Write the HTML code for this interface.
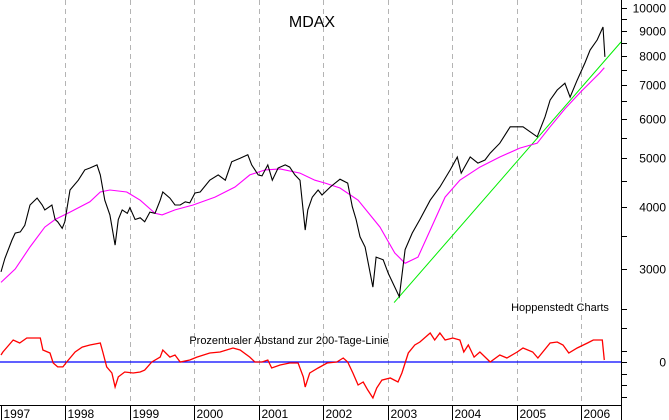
<!DOCTYPE html>
<html><head><meta charset="utf-8"><style>
html,body{margin:0;padding:0;background:#fff;}
svg{display:block;font-family:"Liberation Sans",Arial,sans-serif;}
</style></head><body>
<svg id="chart" width="669" height="420" viewBox="0 0 669 420" xmlns="http://www.w3.org/2000/svg">
<rect x="0" y="0" width="669" height="420" fill="#fff"/>
<g id="grid"></g>
<g id="axes"></g>
<g id="series"></g>
<text x="312" y="27" font-size="16" text-anchor="middle">MDAX</text>
<text x="560" y="311" font-size="11" text-anchor="middle">Hoppenstedt Charts</text>
<text x="289" y="344" font-size="11" text-anchor="middle">Prozentualer Abstand zur 200-Tage-Linie</text>
</svg>
<script>
// time in years since 1 Jan 1997
const years = ["1997","1998","1999","2000","2001","2002","2003","2004","2005","2006"];
const priceT = [0,0.06,0.17,0.22,0.30,0.37,0.45,0.56,0.64,0.68,0.79,0.84,0.88,0.95,0.99,1.07,1.20,1.30,1.38,1.49,1.54,1.61,1.69,1.77,1.82,1.88,1.96,2.00,2.08,2.16,2.23,2.31,2.39,2.47,2.51,2.62,2.70,2.78,2.86,2.93,3.01,3.09,3.24,3.37,3.48,3.58,3.71,3.83,3.89,3.99,4.05,4.14,4.21,4.30,4.41,4.48,4.56,4.64,4.72,4.76,4.83,4.92,4.98,5.11,5.26,5.38,5.45,5.51,5.57,5.65,5.77,5.82,5.93,6.01,6.18,6.27,6.38,6.50,6.66,6.81,6.97,7.08,7.14,7.28,7.40,7.51,7.59,7.74,7.90,8.10,8.32,8.44,8.52,8.63,8.75,8.83,8.94,9.06,9.14,9.25,9.34,9.37];
const priceV = [2960,3150,3430,3540,3560,3670,4030,4160,4030,3940,4030,3770,3730,3620,3730,4320,4520,4740,4780,4850,4630,4120,3850,3350,3770,3940,3880,3980,3770,3800,3730,3900,3880,4120,4280,4160,4030,4030,4090,4070,4260,4280,4520,4630,4520,4920,5000,5080,4850,4630,4610,4850,4520,4780,4850,4800,4630,4520,3590,3940,4180,4320,4220,4380,4540,4460,4000,3770,3480,3320,2760,3170,3130,2940,2640,3280,3540,3770,4120,4380,4740,5030,4670,5030,4890,4960,5120,5360,5780,5780,5520,6050,6540,6850,7070,6630,7170,7760,8240,8630,9160,7980];
const maT = [0,0.22,0.45,0.68,0.84,1.07,1.38,1.54,1.69,1.95,2.16,2.39,2.50,2.70,2.98,3.32,3.63,3.86,4.10,4.33,4.64,4.87,5.03,5.26,5.54,5.88,6.11,6.27,6.47,6.66,6.89,7.12,7.43,7.74,8.05,8.32,8.52,8.75,8.98,9.29,9.36];
const maV = [2820,3000,3320,3640,3770,3900,4090,4280,4320,4280,4120,3880,3850,3940,4030,4180,4380,4630,4740,4760,4670,4520,4460,4360,4120,3640,3230,3080,3170,3590,4180,4520,4800,5030,5240,5360,5780,6280,6760,7410,7590];
const trendT = [6.10,9.62];
const trendV = [2570,8550];
const oscT = [0,0.03,0.19,0.29,0.40,0.53,0.61,0.65,0.76,0.81,0.88,0.96,1.02,1.15,1.26,1.38,1.54,1.58,1.64,1.72,1.77,1.82,1.92,2.05,2.16,2.23,2.34,2.47,2.51,2.62,2.70,2.78,2.93,3.04,3.24,3.40,3.60,3.71,3.86,3.94,4.05,4.14,4.20,4.33,4.48,4.61,4.69,4.72,4.79,4.92,5.06,5.21,5.31,5.38,5.46,5.54,5.62,5.69,5.77,5.83,5.91,6.04,6.16,6.22,6.27,6.32,6.42,6.50,6.66,6.73,6.81,6.89,7.01,7.12,7.18,7.25,7.34,7.43,7.59,7.74,7.85,8.01,8.10,8.25,8.33,8.52,8.63,8.72,8.81,8.94,9.10,9.19,9.33,9.36];
const oscV = [6.1,8.7,19.1,16.5,20.9,20.9,20.9,10.4,7.8,-0.9,-4.3,-4.3,0,8.7,13.0,14.8,16.5,8.7,-4.3,-9.6,-21.7,-13.0,-8.7,-9.6,-8.7,-7.0,0,4.3,10.4,4.3,6.1,0,1.7,4.3,7.8,8.7,12.2,10.4,4.3,0,0,1.7,-5.2,-2.6,-0.9,-0.9,-13.0,-21.7,-9.6,-5.2,-0.9,0,3.5,0,-9.6,-20.0,-17.4,-24.3,-31.3,-22.6,-15.7,-13.9,-17.4,-9.6,-0.9,7.8,14.8,17.4,25.2,19.1,25.2,19.1,20.9,19.1,8.7,14.8,4.3,8.7,0,6.1,3.5,8.7,12.2,8.7,3.5,16.5,17.4,14.8,7.8,12.2,16.5,19.1,19.1,1.7];
const priceLabels = [10000,9000,8000,7000,6000,5000,4000,3000];
const priceMinor = [9500,8500,7500,6500,5500,4500,3500,2500];
const oscTicks = [30,10,0,-10,-20,-30];

const NS="http://www.w3.org/2000/svg";
const svg=document.getElementById('chart');
const X0=1, XPY=64.45, RIGHT=621, BOTTOM=405;
const xs=t=>X0+t*XPY;
const yp=v=>8+216.8*Math.log(10000/v);
const yo=p=>362-p*1.15;
function mk(tag,attrs,parent){const e=document.createElementNS(NS,tag);for(const k in attrs)e.setAttribute(k,attrs[k]);parent.appendChild(e);return e;}
const grid=document.getElementById('grid'),axes=document.getElementById('axes'),ser=document.getElementById('series');

years.forEach((y,i)=>{
  const x=Math.round(xs(i))+0.5;
  if(i>0){const g=mk('line',{x1:x,x2:x,y1:0,y2:BOTTOM,stroke:'#b4b4b4','stroke-dasharray':'5,4'},grid);
  
  }
  const tk=mk('line',{x1:x,x2:x,y1:BOTTOM,y2:420,stroke:'#000'},axes);
  
  
  const tx=mk('text',{x:x+2,y:418,'font-size':12},axes);
  tx.textContent=y;
  
  
});
const ax=mk('line',{x1:RIGHT+0.5,x2:RIGHT+0.5,y1:0,y2:420,stroke:'#000'},axes);


const bx=mk('line',{x1:0,x2:RIGHT,y1:BOTTOM+0.5,y2:BOTTOM+0.5,stroke:'#000'},axes);


priceLabels.forEach(v=>{
  const y=Math.round(yp(v))+0.5;
  const t=mk('line',{x1:RIGHT,x2:RIGHT+6,y1:y,y2:y,stroke:'#000'},axes);
  
  
  const l=mk('text',{x:666,y:y+4,'font-size':12,'text-anchor':'end'},axes);
  l.textContent=v;
  
  
});
priceMinor.forEach(v=>{
  const y=Math.round(yp(v))+0.5;
  const t=mk('line',{x1:RIGHT,x2:RIGHT+6,y1:y,y2:y,stroke:'#000'},axes);
  
  
});
oscTicks.forEach(p=>{
  const y=Math.round(yo(p))+0.5;
  const t=mk('line',{x1:RIGHT,x2:RIGHT+6,y1:y,y2:y,stroke:'#000'},axes);
  
  
  if(p===0){const l=mk('text',{x:666,y:y+4,'font-size':12,'text-anchor':'end'},axes);
  l.textContent='0';
  
  }
});
function poly(T,V,fy,color,w,name){
  const pts=T.map((t,i)=>xs(t).toFixed(1)+','+fy(V[i]).toFixed(1)).join(' ');
  const p=mk('polyline',{points:pts,fill:'none',stroke:color,'stroke-width':w,'stroke-linejoin':'miter'},ser);
  
  
}
const z=mk('line',{x1:0,x2:RIGHT,y1:yo(0),y2:yo(0),stroke:'#0000ff','stroke-width':1.3},ser);


poly(trendT,trendV,yp,'#00ee00',1,'trend-line');
poly(maT,maV,yp,'#ff00ff',1.1,'moving-average-200');
poly(priceT,priceV,yp,'#000',1.1,'mdax-price-line');
poly(oscT,oscV,yo,'#ff0000',1.3,'oscillator-line');
</script>
</body></html>
